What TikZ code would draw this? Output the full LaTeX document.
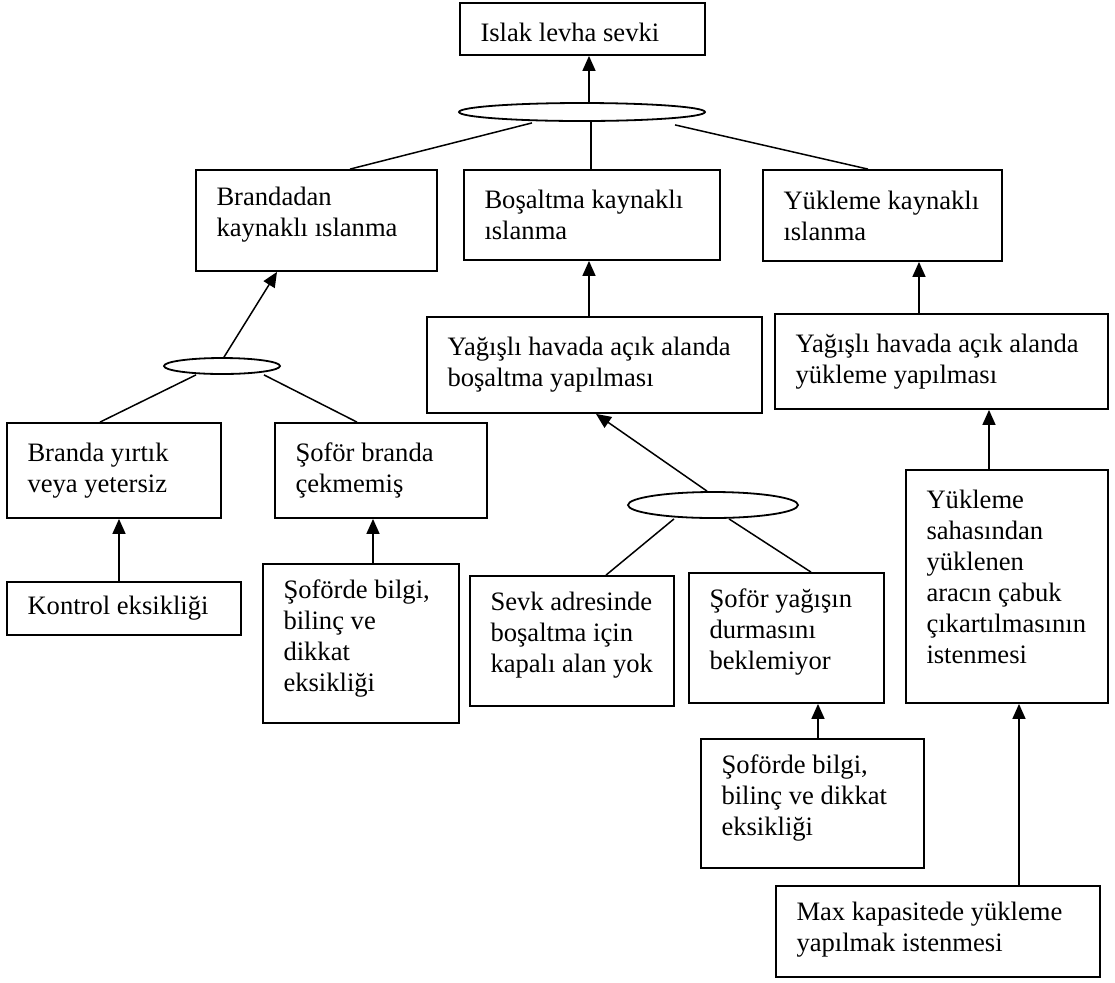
\documentclass[tikz,border=0pt]{standalone}
\usepackage{fontspec}
\setmainfont{Liberation Serif}
\usetikzlibrary{arrows.meta,shapes.geometric}
\tikzset{
  kutu/.style={draw, line width=0.9pt, rectangle, inner sep=0pt},
  yazi/.style={inner sep=0pt, align=left, font=\fontsize{13.3pt}{15.5pt}\selectfont},
  elips/.style={draw, line width=0.9pt, ellipse, inner sep=0pt},
  bag/.style={line width=0.75pt},
  ok/.style={line width=0.75pt, -{Triangle[length=7.5pt,width=6.5pt]}},
}
\newcommand{\kutu}[7]{%
  \node[kutu, minimum width={(#4-#2)*0.5pt}, minimum height={(#5-#3)*0.5pt}] (#1) at ({(#2+#4)/2},{(#3+#5)/2}) {};
  \node[yazi, anchor=west] (#1t) at ([xshift=10.5pt,yshift=#6]#1.west) {#7};
}
\begin{document}
\begin{tikzpicture}[x=0.5pt,y=-0.5pt]
\useasboundingbox (0,0) rectangle (1115,982);
% boxes
\kutu{A}{460}{3}{705}{55}{-1.5pt}{Islak levha sevki}
\kutu{B1}{196}{170}{437}{271}{3pt}{Brandadan\\kaynaklı ıslanma}
\kutu{B2}{464}{170}{720}{260}{0pt}{Boşaltma kaynaklı\\ıslanma}
\kutu{B3}{763}{170}{1002}{261}{0pt}{Yükleme kaynaklı\\ıslanma}
\kutu{C1}{7}{423}{221}{518}{0pt}{Branda yırtık\\veya yetersiz}
\kutu{C2}{275}{423}{487}{518}{0pt}{Şoför branda\\çekmemiş}
\kutu{D1}{7}{582}{241}{635}{0pt}{Kontrol eksikliği}
\kutu{D2}{263}{564}{459}{723}{2.5pt}{Şoförde bilgi,\\bilinç ve\\dikkat\\eksikliği}
\kutu{Y1}{427}{317}{762}{413}{0pt}{Yağışlı havada açık alanda\\boşaltma yapılması}
\kutu{Y2}{775}{314}{1108}{409}{0pt}{Yağışlı havada açık alanda\\yükleme yapılması}
\kutu{S1}{470}{576}{674}{706}{3pt}{Sevk adresinde\\boşaltma için\\kapalı alan yok}
\kutu{S2}{689}{573}{884}{703}{3pt}{Şoför yağışın\\durmasını\\beklemiyor}
\kutu{T1}{701}{739}{924}{868}{3pt}{Şoförde bilgi,\\bilinç ve dikkat\\eksikliği}
\kutu{Y3}{906}{470}{1108}{703}{5pt}{Yükleme\\sahasından\\yüklenen\\aracın çabuk\\çıkartılmasının\\istenmesi}
\kutu{M}{776}{886}{1100}{977}{1pt}{Max kapasitede yükleme\\yapılmak istenmesi}
% ellipses
\node[elips, minimum width=123pt, minimum height=9pt] (e1) at (582,112) {};
\node[elips, minimum width=58pt, minimum height=8pt] (e2) at (222,366) {};
\node[elips, minimum width=85pt, minimum height=13pt] (e3) at (713,505) {};
% top gate
\draw[ok] ([xshift=3.5pt]e1.north) -- ([xshift=3.5pt]e1.north |- A.south);
\draw[bag] ([xshift=-25pt,yshift=-0.5pt]e1.south) -- ([xshift=16.75pt]B1.north);
\draw[bag] ([xshift=4.5pt]e1.south) -- ([xshift=4.5pt]e1.south |- B2.north);
\draw[bag] ([xshift=46.5pt,yshift=-1.5pt]e1.south) -- ([xshift=-7.25pt]B3.north);
% left gate
\draw[ok] ([xshift=1pt]e2.north) -- ([xshift=-19.75pt]B1.south);
\draw[bag] ([xshift=-13pt]e2.south) -- ([xshift=-7pt]C1.north);
\draw[bag] ([xshift=21pt]e2.south) -- ([xshift=-12pt]C2.north);
\draw[ok] ([xshift=-2.5pt]D1.north) -- ([xshift=-2.5pt]D1.north |- C1.south);
\draw[ok] ([xshift=6pt]D2.north) -- ([xshift=6pt]D2.north |- C2.south);
% middle
\draw[ok] ([xshift=-2.75pt]Y1.north) -- ([xshift=-2.75pt]Y1.north |- B2.south);
\draw[ok] ([xshift=-3pt]e3.north) -- ([xshift=0.75pt]Y1.south);
\draw[bag] ([xshift=-19.5pt]e3.south) -- ([xshift=17pt]S1.north);
\draw[bag] ([xshift=8pt]e3.south) -- ([xshift=12.25pt]S2.north);
\draw[ok] ([xshift=2.75pt]T1.north) -- ([xshift=2.75pt]T1.north |- S2.south);
% right
\draw[ok] ([xshift=-11.25pt]Y2.north) -- ([xshift=-11.25pt]Y2.north |- B3.south);
\draw[ok] ([xshift=-9pt]Y3.north) -- ([xshift=-9pt]Y3.north |- Y2.south);
\draw[ok] ([xshift=40.5pt]M.north) -- ([xshift=40.5pt]M.north |- Y3.south);
\end{tikzpicture}
\end{document}
